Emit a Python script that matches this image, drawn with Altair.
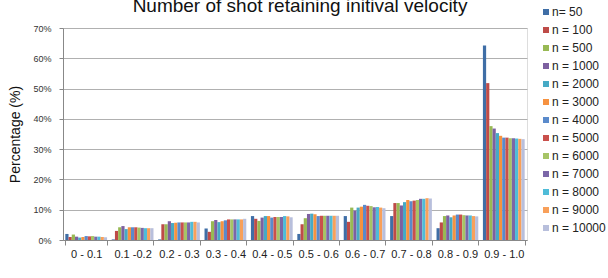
import altair as alt
import pandas as pd

title_text = ["Number of shot retaining initival velocity"]
categories = ["0 - 0.1", "0.1 -0.2", "0.2 - 0.3", "0.3 - 0.4", "0.4 - 0.5",
              "0.5 - 0.6", "0.6 - 0.7", "0.7 - 0.8", "0.8 - 0.9", "0.9 - 1.0"]
series = ["n= 50", "n = 100", "n = 500", "n = 1000", "n = 2000", "n = 3000",
          "n = 4000", "n = 5000", "n = 6000", "n = 7000", "n = 8000",
          "n = 9000", "n = 10000"]
colors = ["#3F6EA6", "#BE4B48", "#98B954", "#7D60A0", "#46AAC5", "#F69240",
          "#5A8ACB", "#C9504C", "#A6C466", "#7B67A8", "#4FBCD8", "#F8A05A",
          "#B8BFDC"]

# percentage values per category, one per series (in series order)
g_00_01 = [2.0, 1.0, 1.8, 1.1, 0.8, 1.0, 1.3, 1.2, 1.3, 1.1, 1.1, 1.0, 0.9]
g_01_02 = [0.2, 3.0, 4.2, 4.6, 3.6, 4.2, 4.2, 4.2, 4.1, 4.0, 3.9, 3.9, 3.9]
g_02_03 = [0.2, 5.2, 5.2, 6.2, 5.6, 5.7, 5.8, 5.8, 5.8, 5.8, 6.0, 6.0, 5.8]
g_03_04 = [3.8, 2.7, 6.2, 6.6, 5.9, 6.2, 6.5, 6.8, 6.8, 6.8, 6.8, 6.8, 7.0]
g_04_05 = [7.9, 7.0, 6.3, 7.4, 7.9, 7.9, 7.4, 7.6, 7.6, 7.6, 7.9, 7.8, 7.5]
g_05_06 = [2.0, 5.2, 7.2, 8.6, 8.7, 8.5, 7.9, 8.0, 8.0, 8.0, 8.0, 8.0, 8.0]
g_06_07 = [7.9, 6.0, 10.7, 9.7, 10.7, 11.0, 11.6, 11.3, 11.2, 10.8, 10.9, 10.7, 10.5]
g_07_08 = [7.9, 12.2, 12.2, 11.4, 12.5, 13.2, 12.8, 13.0, 13.2, 13.6, 13.6, 13.8, 13.7]
g_08_09 = [3.9, 5.8, 7.9, 8.1, 7.5, 8.1, 8.4, 8.4, 8.2, 8.1, 8.1, 7.9, 7.8]
g_09_10 = [64.2, 51.8, 37.6, 36.8, 35.3, 34.4, 33.8, 33.8, 33.6, 33.6, 33.5, 33.4, 33.3]

groups = [g_00_01, g_01_02, g_02_03, g_03_04, g_04_05,
          g_05_06, g_06_07, g_07_08, g_08_09, g_09_10]

rows = []
for cat, vals in zip(categories, groups):
    for s, v in zip(series, vals):
        rows.append({"range": cat, "series": s, "pct": v})
df = pd.DataFrame(rows)

FONT = "Liberation Sans"

bars = alt.Chart(df).mark_bar().encode(
    x=alt.X("range:N", sort=categories,
            scale=alt.Scale(paddingInner=0.1, paddingOuter=0.05),
            axis=alt.Axis(title=None, labelAngle=0, labelFont=FONT,
                          labelFontSize=11, labelColor="#222222",
                          tickBand="extent", tickSize=5, tickColor="#888888",
                          domainColor="#888888", labelPadding=3, grid=False)),
    xOffset=alt.XOffset("series:N", sort=series,
                        scale=alt.Scale(paddingInner=0, paddingOuter=0)),
    y=alt.Y("pct:Q",
            scale=alt.Scale(domain=[0, 70], nice=False),
            axis=alt.Axis(title="Percentage (%)", titleFont=FONT,
                          titleFontSize=14, titleFontWeight="normal",
                          titleColor="#111111", titlePadding=10,
                          values=[0, 10, 20, 30, 40, 50, 60, 70],
                          labelExpr="datum.value + '%'", labelFont=FONT,
                          labelFontSize=9, labelColor="#333333",
                          labelPadding=8, tickSize=4, tickColor="#888888",
                          domainColor="#888888", gridColor="#B0B0B0",
                          gridWidth=1)),
    color=alt.Color("series:N", sort=series,
                    scale=alt.Scale(domain=series, range=colors),
                    legend=alt.Legend(title=None, orient="none",
                                      legendX=477, legendY=-22,
                                      symbolType="square", symbolSize=36,
                                      symbolStrokeWidth=0,
                                      labelFont=FONT, labelFontSize=12,
                                      labelColor="#222222", rowPadding=6,
                                      labelOffset=0)),
)

title = alt.Chart(pd.DataFrame({"t": title_text})).mark_text(
    font=FONT, fontSize=19, color="#111111", align="center",
    baseline="alphabetic"
).encode(text="t:N", x=alt.value(237), y=alt.value(-16))

chart = alt.layer(bars, title).properties(
    width=464,
    height=212,
    padding={"left": 63, "top": 28, "right": 81, "bottom": 38},
    autosize=alt.AutoSizeParams(type="none"),
).configure_view(stroke=None).configure(background="white")

chart.save("out.html", embed_options={"renderer": "svg", "actions": False})
